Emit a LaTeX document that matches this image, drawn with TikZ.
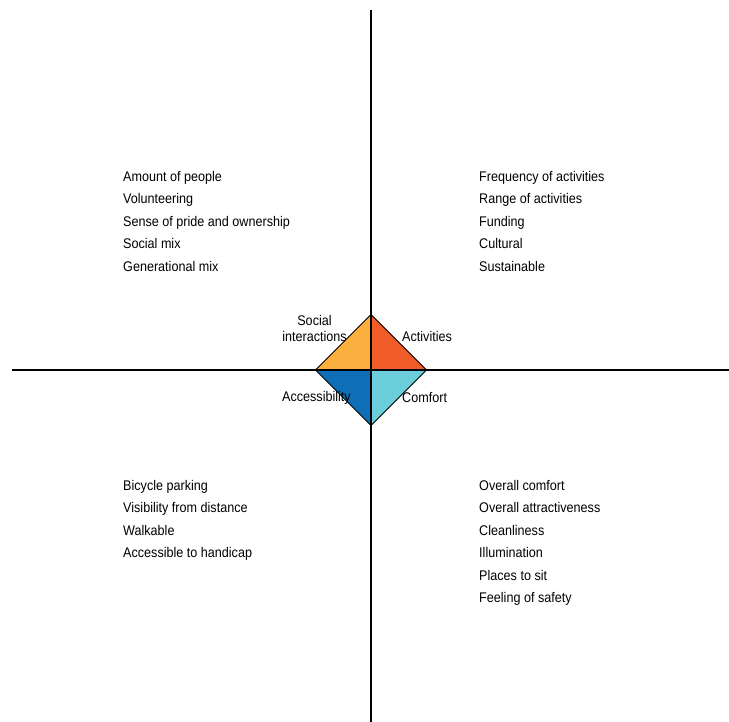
\documentclass[tikz,border=0pt]{standalone}
\usepackage{fontspec}
\setmainfont{Liberation Sans}[FakeStretch=0.9]
\usetikzlibrary{positioning}
\definecolor{Saffron}{RGB}{250,175,62}
\definecolor{Flame}{RGB}{241,93,41}
\definecolor{Cobalt}{RGB}{14,111,182}
\definecolor{Sky}{RGB}{109,206,219}

\begin{document}
\begin{tikzpicture}[x=1pt,y=-1pt,
    axis/.style={line width=1.1pt,black},
    wedge/.style={draw=black,line width=0.8pt,line join=round},
    label/.style={font=\fontsize{14}{16.5}\selectfont,inner sep=0pt,align=center},
    items/.style={font=\fontsize{14}{22.5}\selectfont,inner sep=0pt,align=left,anchor=north west}
]
\useasboundingbox (0,0) rectangle (729,722);

% Axes
\coordinate (top) at (371,10);
\coordinate (bottom) at (371,722);
\coordinate (left) at (12,370);
\coordinate (right) at (729,370);

% Diamond corners
\coordinate (c) at (371,370);
\coordinate (n) at (371,314.5);
\coordinate (e) at (426.5,370);
\coordinate (s) at (371,425.5);
\coordinate (w) at (315.5,370);

% Diamond quarters
\fill[Saffron] (c) -- (w) -- (n) -- cycle;
\fill[Flame] (c) -- (n) -- (e) -- cycle;
\fill[Cobalt] (c) -- (w) -- (s) -- cycle;
\fill[Sky] (c) -- (s) -- (e) -- cycle;
\draw[wedge] (n) -- (e) -- (s) -- (w) -- cycle;

\draw[axis] (top) -- (bottom);
\draw[axis] (left) -- (right);

% Quarter names
\node[label] (social) at (314.5,328.5) {Social\\interactions};
\node[label,anchor=west] (activities) at (402,336) {Activities};
\node[label,anchor=east] (access) at (351,398) {Accessibility};
\node[label,anchor=west] (comfort) at (402,398) {Comfort};

% Social interactions
\node[items] (socialitems) at (123,171) {
    Amount of people\\
    Volunteering\\
    Sense of pride and ownership\\
    Social mix\\
    Generational mix
};

% Activities
\node[items] (activityitems) at (479,171) {
    Frequency of activities\\
    Range of activities\\
    Funding\\
    Cultural\\
    Sustainable
};

% Accessibility
\node[items] (accessitems) at (123,480) {
    Bicycle parking\\
    Visibility from distance\\
    Walkable\\
    Accessible to handicap
};

% Comfort
\node[items] (comfortitems) at (479,480) {
    Overall comfort\\
    Overall attractiveness\\
    Cleanliness\\
    Illumination\\
    Places to sit\\
    Feeling of safety
};

\end{tikzpicture}
\end{document}
